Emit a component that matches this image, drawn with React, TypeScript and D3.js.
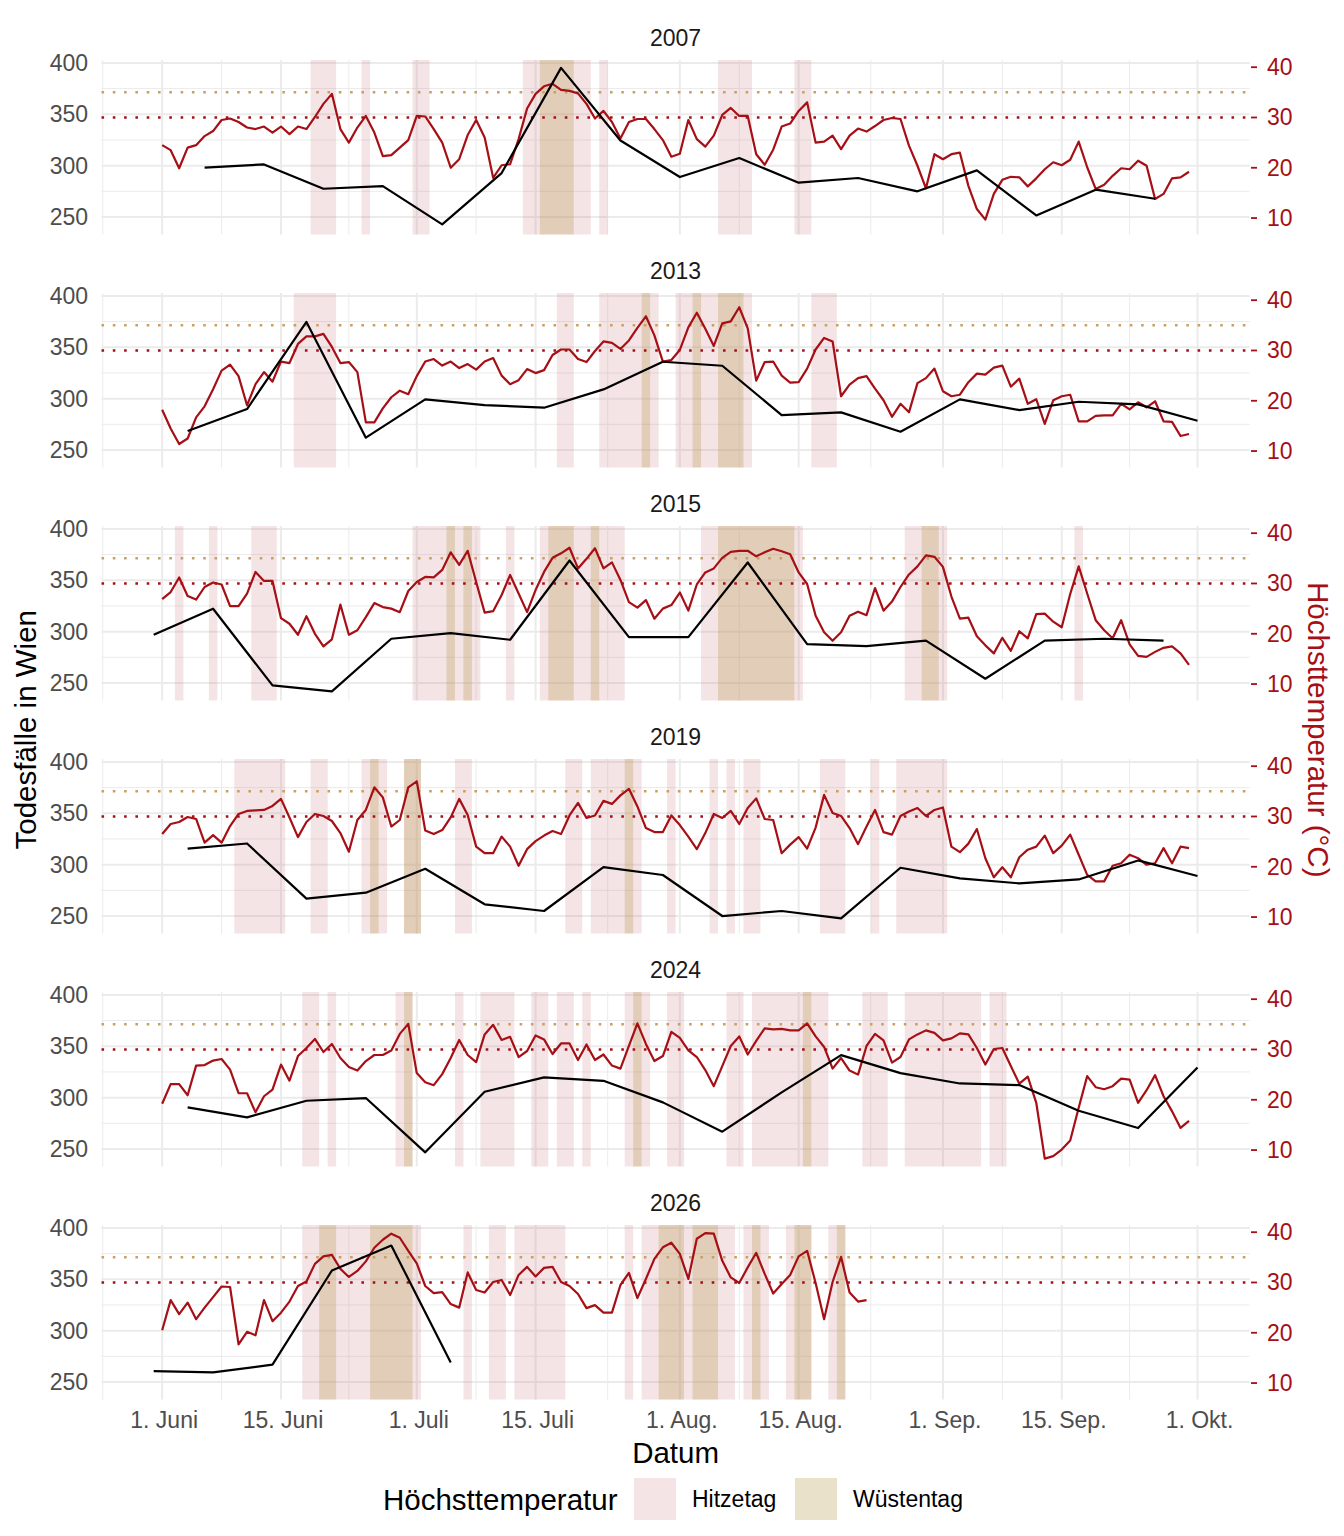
import React from "react";
import * as d3 from "d3";

// ---- data -------------------------------------------------------------

const years = ["2007", "2013", "2015", "2019", "2024", "2026"];

// Höchsttemperatur (°C), täglich ab 1. Juni
const temp2007 = [
  24.5, 23.5, 19.9, 24, 24.5, 26.3, 27.3, 29.5, 29.8, 29.1,
  28, 27.7, 28.2, 27, 28.2, 26.7, 28.2, 27.7, 30.1, 32.7,
  34.7, 27.7, 25, 28, 30.3, 27, 22.3, 22.5, 24, 25.5,
  30.3, 30.2, 27.7, 25, 20, 21.7, 26.5, 29.5, 26, 18,
  20.5, 20.7, 25.7, 31.8, 34.7, 36.2, 36.7, 35.5, 35.3, 34.8,
  32.7, 29.8, 31.3, 29.1, 25.8, 29.1, 29.7, 29.7, 27.7, 25.5,
  22.2, 22.8, 29.5, 25.7, 24.2, 26.4, 30.5, 31.9, 30.3, 30.3,
  22.7, 20.6, 23.6, 28.2, 28.8, 31.3, 33, 25, 25.2, 26.4,
  23.7, 26.4, 27.8, 27.2, 28.3, 29.5, 29.9, 29.7, 24.4, 20.4,
  15.9, 22.7, 21.7, 22.7, 23, 16.4, 11.8, 9.7, 14.8, 17.6,
  18.2, 18.1, 16.3, 17.9, 19.7, 21.1, 20.5, 21.6, 25.2, 20.1,
  15.8, 16.6, 18.4, 19.9, 19.7, 21.4, 20.4, 13.8, 14.8, 17.9,
  18.1, 19.2,
];
const temp2013 = [
  18.2, 14.5, 11.4, 12.5, 16.7, 18.9, 22.3, 26, 27.2, 24.9,
  19.1, 23.3, 25.7, 23.8, 27.8, 27.5, 31.3, 32.8, 32.8, 33.3,
  30.7, 27.5, 27.7, 25.7, 15.7, 15.7, 18.5, 20.7, 22, 21.3,
  24.9, 27.8, 28.3, 27, 27.8, 26.5, 27.3, 26.2, 27.8, 28.5,
  25, 23.3, 24.1, 26.3, 25.5, 26.1, 29.1, 30.2, 30.2, 28.3,
  27.7, 29.9, 31.8, 31.5, 30.3, 32, 34.5, 36.8, 33, 27.8,
  28.1, 30.1, 34.6, 37.5, 34.3, 30.9, 35.4, 35.8, 38.6, 34.4,
  24, 27.7, 27.8, 25, 23.6, 23.7, 26.4, 30.2, 32.5, 31.8,
  20.9, 23.2, 24.5, 24.9, 22.4, 20.1, 16.8, 19.4, 17.7, 23.5,
  24.5, 26.4, 21.9, 20.9, 21.2, 23.7, 25.4, 25.2, 26.6, 27,
  22.8, 24.4, 19.4, 20.3, 15.4, 20.1, 20.9, 21.2, 15.9, 15.9,
  17, 17.1, 17.1, 19.4, 18.3, 19.7, 18.7, 19.9, 15.9, 15.8,
  13, 13.4,
];
const temp2015 = [
  26.9, 28.3, 31.2, 27.5, 26.8, 29.3, 30.2, 29.8, 25.5, 25.5,
  28, 32.3, 30.5, 30.5, 23.1, 22, 19.8, 23.5, 20, 17.5,
  18.9, 25.8, 19.8, 20.7, 23.3, 26.1, 25.3, 25, 24.3, 28.5,
  30.3, 31.3, 31.2, 32.7, 36.2, 33.7, 36.5, 30.3, 24.2, 24.5,
  27.7, 31.7, 28, 24.3, 28.7, 32.3, 35.1, 36, 37.1, 33,
  34.9, 37, 33, 34.2, 30.7, 26.3, 25.2, 26.7, 23, 25,
  25.7, 28.2, 24.6, 29.8, 32.2, 33, 35.1, 36.3, 36.5, 36.5,
  35.4, 36.2, 36.9, 36.4, 35.8, 32.2, 29.9, 23.6, 20.3, 18.6,
  20.3, 23.6, 24.4, 23.7, 29.1, 24.6, 26.4, 29.3, 31.8, 33.4,
  35.6, 35.3, 33.3, 27.4, 23, 23.2, 19.5, 17.7, 16.1, 19.2,
  16.6, 20.5, 19.1, 23.9, 24, 22.4, 21.3, 27.9, 33.4, 28,
  22.7, 20.7, 19.1, 22.7, 17.9, 15.6, 15.4, 16.4, 17.2, 17.5,
  16.1, 13.8,
];
const temp2019 = [
  26.5, 28.5, 28.9, 29.9, 29.5, 24.8, 26.3, 24.8, 28.1, 30.5,
  31.1, 31.2, 31.3, 32.1, 33.5, 29.8, 25.9, 28.9, 30.5, 30.1,
  29.1, 26.7, 23, 29.3, 31.3, 35.8, 33.8, 28, 29.3, 35.8,
  37, 27.2, 26.5, 27.3, 29.8, 33.5, 30.3, 24, 22.7, 22.7,
  26, 24, 20.2, 23.5, 25.1, 26.2, 27.1, 26.5, 30.2, 32.7,
  29.7, 30.2, 33.1, 32.5, 34.2, 35.5, 32, 27.7, 26.9, 26.9,
  30.2, 28.3, 26, 23.5, 26.7, 30.5, 29.7, 31.1, 28.5, 31.7,
  33.6, 29.5, 29.3, 22.7, 24.4, 25.9, 23.6, 27.8, 34.3, 30.7,
  30.1, 27.7, 24.5, 28, 31.3, 26.9, 26.4, 30.1, 31, 31.7,
  30.1, 31.3, 31.8, 24, 22.9, 24.6, 27.5, 21.7, 17.9, 19.9,
  17.9, 21.9, 23.4, 24, 26.2, 22.7, 24.2, 26.4, 22.4, 18.4,
  17.1, 17.1, 20.2, 20.7, 22.4, 21.7, 20.4, 20.7, 23.7, 20.7,
  24, 23.7,
];
const temp2024 = [
  19.2, 23.1, 23.1, 20.9, 26.8, 26.9, 27.8, 28.1, 26, 21.3,
  21.3, 17.5, 20.7, 22, 27, 23.8, 28.7, 30.3, 32.1, 29.5,
  31.1, 28.3, 26.5, 25.8, 27.7, 28.9, 28.9, 29.8, 33.1, 35.1,
  25.3, 23.5, 22.9, 25.1, 28.3, 31.9, 28.9, 27.5, 33, 34.9,
  31.9, 32.5, 28.5, 29.7, 32.8, 32, 29.1, 31.2, 31.2, 27.9,
  31, 27.9, 29, 26.8, 26.2, 30.7, 35.2, 31.1, 27.7, 28.7,
  33.5, 32.3, 29.8, 28.5, 25.9, 22.7, 26.7, 30.7, 32.6, 29,
  31.7, 34.2, 34, 34.1, 33.8, 33.8, 35.2, 32.6, 30.5, 26.2,
  28.3, 25.8, 25, 30.7, 33.1, 31.8, 27.4, 28.5, 32, 33,
  33.8, 33.3, 31.8, 32.2, 33.2, 33, 30.3, 27, 30.1, 30.3,
  26.7, 23.2, 24.6, 19.4, 8.3, 8.8, 10.1, 11.9, 18.4, 24.7,
  22.5, 22.1, 22.7, 24.2, 24, 19.4, 21.9, 24.9, 20.7, 17.7,
  14.4, 15.8,
];
const temp2026 = [
  20.5, 26.5, 23.7, 26, 22.7, 25, 27.1, 29.2, 29.1, 17.7,
  20.2, 19.5, 26.5, 22.3, 24, 26.2, 29.3, 30.2, 33.7, 35.2,
  35.5, 32.7, 31.1, 32.3, 34.2, 36.9, 38.5, 39.7, 38.9, 36.3,
  33.8, 29.3, 27.9, 28.1, 25.7, 25, 32, 28.5, 28, 30.1,
  30.5, 27.5, 31.5, 33.1, 31.2, 32.9, 33.1, 30.1, 29.3, 27.7,
  24.9, 25.5, 24, 24, 29.5, 31.9, 26.9, 30.7, 34.7, 37,
  37.9, 35.7, 30.7, 38.7, 39.8, 39.7, 34.3, 31, 29.9, 33,
  35.9, 31.7, 27.8, 29.7, 31.5, 35.2, 36.3, 29.9, 22.7, 30.1,
  35.1, 28, 26.2, 26.5,
];

// Todesfälle in Wien, wöchentlich
const weeks2007 = [
  "06-06", "06-13", "06-20", "06-27", "07-04", "07-11", "07-18", "07-25", "08-01",
  "08-08", "08-15", "08-22", "08-29", "09-05", "09-12", "09-19", "09-26",
];
const deaths2007 = [
  298, 301.2, 277.5, 280, 242.9, 292.8, 395.1, 324.5, 288.9,
  307.4, 283.4, 288, 275, 295.4, 251.6, 276.6, 267.8,
];
const weeks2013 = [
  "06-04", "06-11", "06-18", "06-25", "07-02", "07-09", "07-16", "07-23", "07-30",
  "08-06", "08-13", "08-20", "08-27", "09-03", "09-10", "09-17", "09-24", "10-01",
];
const deaths2013 = [
  268.5, 289.9, 374.7, 262, 299.3, 293.7, 291.2, 309, 335.9,
  332, 284, 286.6, 267.8, 299.3, 288.9, 297, 294.4, 278.5,
];
const weeks2015 = [
  "05-31", "06-07", "06-14", "06-21", "06-28", "07-05", "07-12", "07-19", "07-26",
  "08-02", "08-09", "08-16", "08-23", "08-30", "09-06", "09-13", "09-20", "09-27",
];
const deaths2015 = [
  297, 322.3, 247.7, 241.9, 293.1, 298.6, 292.1, 369.2, 294.7,
  294.7, 367.3, 287.9, 286, 291.2, 254.2, 291.2, 293.1, 291.2,
];
const weeks2019 = weeks2013;
const deaths2019 = [
  315.5, 320.6, 266.9, 272.7, 296, 261.4, 254.9, 297.6, 289.9,
  250, 254.9, 247.7, 297, 286.6, 281.8, 285.6, 304.1, 288.9,
];
const weeks2024 = weeks2013;
const deaths2024 = [
  290.5, 280.8, 297, 299.6, 246.8, 305.7, 319.7, 316.4, 295.4,
  266.9, 305.1, 341.4, 323.9, 313.8, 312.2, 287.3, 270.4, 329.4,
];
const weeks2026 = ["05-31", "06-07", "06-14", "06-21", "06-28", "07-05"];
const deaths2026 = [260.7, 259.4, 266.9, 358.5, 382.8, 269.1];

const temps = [temp2007, temp2013, temp2015, temp2019, temp2024, temp2026];
const weeks = [weeks2007, weeks2013, weeks2015, weeks2019, weeks2024, weeks2026];
const deaths = [deaths2007, deaths2013, deaths2015, deaths2019, deaths2024, deaths2026];

const xTicks = ["06-01", "06-15", "07-01", "07-15", "08-01", "08-15", "09-01", "09-15", "10-01"];
const xTickLabels = [
  "1. Juni", "15. Juni", "1. Juli", "15. Juli", "1. Aug.",
  "15. Aug.", "1. Sep.", "15. Sep.", "1. Okt.",
];
const deathTicks = [250, 300, 350, 400];
const deathMinorTicks = [275, 325, 375];
const tempTicks = [10, 20, 30, 40];
const hitzeLimit = 30;
const wuesteLimit = 35;

// ---- layout ------------------------------------------------------------

const W = 1344;
const H = 1536;
const FONT = "'Liberation Sans', Arial, Helvetica, sans-serif";
const RED = "#a50f15";
const GOLD = "#c9a063";
const GRID = "#ebebeb";
const HITZE_FILL = "rgba(200,120,125,0.2)";
const WUESTE_FILL = "rgba(184,155,79,0.3)";

const plotLeft = 101.5;
const plotRight = 1249.7;
const panelTop0 = 60;
const panelH = 174.5;
const panelStep = 233;
const deathDomain = [233, 402.8];
// where the secondary axis sits on the deaths scale
const tempRef = [10, 40];
const tempRefDeaths = [249, 395.8];

const DAY = 86400000;
const md = (s: string) => {
  const [m, d] = s.split("-").map(Number);
  return new Date(Date.UTC(2000, m - 1, d));
};
const june1 = md("06-01");

const x = d3
  .scaleUtc()
  .domain([new Date(md("05-31").getTime() - 6.15 * DAY), new Date(md("10-01").getTime() + 6.15 * DAY)])
  .range([plotLeft, plotRight]);

const majorDates = xTicks.map(md);
const minorDates = (() => {
  const b = majorDates.map((d) => d.getTime());
  const ext = [b[0] - (b[1] - b[0]), ...b, b[b.length - 1] + (b[b.length - 1] - b[b.length - 2])];
  const out: Date[] = [];
  for (let i = 0; i < ext.length - 1; i++) out.push(new Date((ext[i] + ext[i + 1]) / 2));
  const [lo, hi] = x.domain();
  return out.filter((d) => d >= lo && d <= hi);
})();

// consecutive runs of days at or above a limit
function runs(values: number[], limit: number) {
  const out: [number, number][] = [];
  let start = -1;
  values.forEach((v, i) => {
    if (v >= limit && start < 0) start = i;
    if (v < limit && start >= 0) {
      out.push([start, i - 1]);
      start = -1;
    }
  });
  if (start >= 0) out.push([start, values.length - 1]);
  return out;
}

const dayDate = (i: number) => new Date(june1.getTime() + i * DAY);

function Panel({ index }: { index: number }) {
  const top = panelTop0 + index * panelStep;
  const bottom = top + panelH;
  const y = d3.scaleLinear().domain(deathDomain).range([bottom, top]);
  const yT = d3
    .scaleLinear()
    .domain(tempRef)
    .range([y(tempRefDeaths[0]), y(tempRefDeaths[1])]);

  const t = temps[index];
  const tempLine = d3
    .line<number>()
    .x((_, i) => x(dayDate(i)))
    .y((v) => yT(v));
  const deathPts = weeks[index].map((w, i) => [md(w), deaths[index][i]] as [Date, number]);
  const deathLine = d3
    .line<[Date, number]>()
    .x((d) => x(d[0]))
    .y((d) => y(d[1]));

  const band = (r: [number, number], fill: string, k: string) => {
    const x0 = x(new Date(dayDate(r[0]).getTime() - DAY / 2));
    const x1 = x(new Date(dayDate(r[1]).getTime() + DAY / 2));
    return <rect key={k} x={x0} y={top} width={x1 - x0} height={panelH} fill={fill} />;
  };

  return (
    <g>
      <text
        x={(plotLeft + plotRight) / 2}
        y={top - 22}
        textAnchor="middle"
        dominantBaseline="central"
        fontSize={23}
        fill="#1a1a1a"
      >
        {years[index]}
      </text>
      {/* grid */}
      {deathMinorTicks.map((v) => (
        <line key={"hm" + v} x1={plotLeft} x2={plotRight} y1={y(v)} y2={y(v)} stroke={GRID} strokeWidth={1} />
      ))}
      {minorDates.map((d) => (
        <line key={"vm" + d.getTime()} x1={x(d)} x2={x(d)} y1={top} y2={bottom} stroke={GRID} strokeWidth={1} />
      ))}
      {deathTicks.map((v) => (
        <line key={"h" + v} x1={plotLeft} x2={plotRight} y1={y(v)} y2={y(v)} stroke={GRID} strokeWidth={2} />
      ))}
      {majorDates.map((d) => (
        <line key={"v" + d.getTime()} x1={x(d)} x2={x(d)} y1={top} y2={bottom} stroke={GRID} strokeWidth={2} />
      ))}
      {/* heat bands */}
      {runs(t, hitzeLimit).map((r, i) => band(r, HITZE_FILL, "hz" + i))}
      {runs(t, wuesteLimit).map((r, i) => band(r, WUESTE_FILL, "wu" + i))}
      {/* thresholds */}
      <line
        x1={plotLeft}
        x2={plotRight}
        y1={yT(wuesteLimit)}
        y2={yT(wuesteLimit)}
        stroke={GOLD}
        strokeWidth={2.5}
        strokeDasharray="2.6 8.7"
      />
      <line
        x1={plotLeft}
        x2={plotRight}
        y1={yT(hitzeLimit)}
        y2={yT(hitzeLimit)}
        stroke={RED}
        strokeWidth={2.5}
        strokeDasharray="2.6 8.7"
      />
      <path d={tempLine(t) ?? ""} fill="none" stroke={RED} strokeWidth={2.2} strokeLinejoin="round" />
      <path d={deathLine(deathPts) ?? ""} fill="none" stroke="#000" strokeWidth={2.2} strokeLinejoin="round" />
      {/* left axis */}
      {deathTicks.map((v) => (
        <text key={"l" + v} x={88} y={y(v)} textAnchor="end" dominantBaseline="central" fontSize={23} fill="#4d4d4d">
          {v}
        </text>
      ))}
      {/* right axis */}
      {tempTicks.map((v) => (
        <g key={"r" + v}>
          <line x1={1251} x2={1257} y1={yT(v)} y2={yT(v)} stroke={RED} strokeWidth={1.8} />
          <text x={1267} y={yT(v)} dominantBaseline="central" fontSize={23} fill={RED}>
            {v}
          </text>
        </g>
      ))}
    </g>
  );
}

export default function App() {
  const lastBottom = panelTop0 + (years.length - 1) * panelStep + panelH;
  const midY = (panelTop0 + lastBottom) / 2;
  const midX = (plotLeft + plotRight) / 2;
  return (
    <svg
      width={W}
      height={H}
      style={{ position: "absolute", left: 0, top: 0, background: "#fff" }}
      fontFamily={FONT}
    >
      <rect width={W} height={H} fill="#fff" />
      {years.map((yr, i) => (
        <Panel key={yr} index={i} />
      ))}
      {majorDates.map((d, i) => (
        <text key={"xt" + i} x={x(d) + 2} y={lastBottom + 28.5} textAnchor="middle" fontSize={23} fill="#4d4d4d">
          {xTickLabels[i]}
        </text>
      ))}
      <text x={midX} y={1462.5} textAnchor="middle" fontSize={29.5} fill="#000">
        Datum
      </text>
      <text
        transform={`translate(25,${midY}) rotate(-90)`}
        textAnchor="middle"
        dominantBaseline="central"
        fontSize={29.5}
        fill="#000"
      >
        Todesfälle in Wien
      </text>
      <text
        transform={`translate(1318,${midY}) rotate(90)`}
        textAnchor="middle"
        dominantBaseline="central"
        fontSize={29.5}
        fill={RED}
      >
        Höchsttemperatur (°C)
      </text>
      {/* legend */}
      <g>
        <text x={383} y={1499} dominantBaseline="central" fontSize={29.5} fill="#000">
          Höchsttemperatur
        </text>
        <rect x={634} y={1478} width={42} height={42} fill={HITZE_FILL} />
        <text x={692} y={1499} dominantBaseline="central" fontSize={23} fill="#000">
          Hitzetag
        </text>
        <rect x={795} y={1478} width={42} height={42} fill={WUESTE_FILL} />
        <text x={853} y={1499} dominantBaseline="central" fontSize={23} fill="#000">
          Wüstentag
        </text>
      </g>
    </svg>
  );
}
